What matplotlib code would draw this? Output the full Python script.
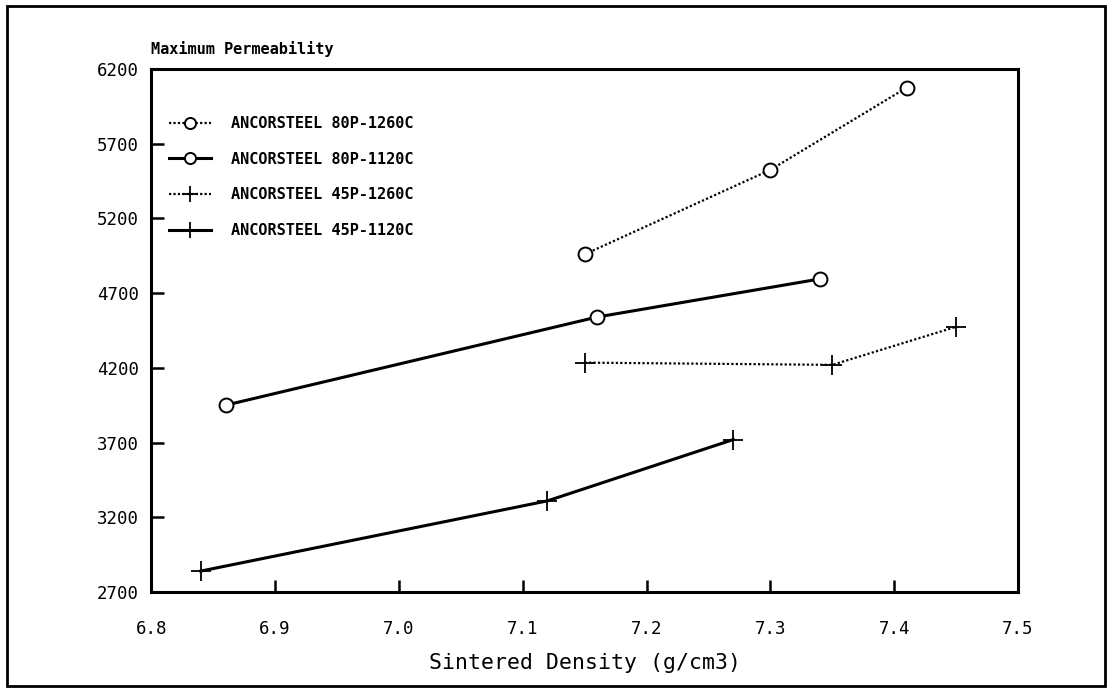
import matplotlib
matplotlib.use("Agg")
import matplotlib.pyplot as plt
from matplotlib.patches import Rectangle

plt.rcParams['font.family'] = ['DejaVu Sans Mono']

# values
x_80p_1260 = [7.15, 7.30, 7.41]
y_80p_1260 = [4960, 5525, 6075]
x_80p_1120 = [6.86, 7.16, 7.34]
y_80p_1120 = [3950, 4540, 4795]
x_45p_1260 = [7.15, 7.35, 7.45]
y_45p_1260 = [4235, 4220, 4475]
x_45p_1120 = [6.84, 7.12, 7.27]
y_45p_1120 = [2840, 3310, 3720]

xticks = [6.8, 6.9, 7.0, 7.1, 7.2, 7.3, 7.4, 7.5]
yticks = [2700, 3200, 3700, 4200, 4700, 5200, 5700, 6200]

fig = plt.figure(figsize=(11.12, 6.92), dpi=100)
ax = fig.add_axes([0.136, 0.1445, 0.7795, 0.7558])

dot = (0, (1, 1))
ax.plot(x_80p_1260, y_80p_1260, color='black', ls=dot, lw=1.6, marker='o',
        ms=10, mfc='white', mec='black', mew=1.4, label='ANCORSTEEL 80P-1260C')
ax.plot(x_80p_1120, y_80p_1120, color='black', ls='-', lw=2.2, marker='o',
        ms=10, mfc='white', mec='black', mew=1.4, label='ANCORSTEEL 80P-1120C')
ax.plot(x_45p_1260, y_45p_1260, color='black', ls=dot, lw=1.6, marker='+',
        ms=14, mew=1.3, label='ANCORSTEEL 45P-1260C')
ax.plot(x_45p_1120, y_45p_1120, color='black', ls='-', lw=2.2, marker='+',
        ms=14, mew=1.3, label='ANCORSTEEL 45P-1120C')

ax.set_xlim(6.8, 7.5)
ax.set_ylim(2700, 6200)
ax.set_xticks(xticks)
ax.set_xticklabels(['%.1f' % v for v in xticks])
ax.set_yticks(yticks)
ax.tick_params(axis='both', direction='in', length=9, width=1.8, labelsize=12.5)
ax.tick_params(axis='x', pad=20)
ax.tick_params(axis='y', pad=9)
for s in ax.spines.values():
    s.set_linewidth(2.2)

ax.set_xlabel('Sintered Density (g/cm3)', fontsize=15.5, labelpad=11)
ax.text(0.0, 1.022, 'Maximum Permeability', transform=ax.transAxes,
        fontsize=11, ha='left', va='bottom', fontweight='bold')

leg = ax.legend(loc='upper left', bbox_to_anchor=(0.02, 0.91), frameon=False,
                handlelength=2.8, handletextpad=1.3, markerscale=0.8,
                labelspacing=1.35, borderpad=0, borderaxespad=0,
                prop={'size': 11, 'weight': 'bold'})

# frame around the whole scanned page
fig.patches.append(Rectangle((0.006, 0.008), 0.988, 0.984, transform=fig.transFigure,
                             fill=False, ec='black', lw=2))

fig.savefig('out.png', dpi=100)
